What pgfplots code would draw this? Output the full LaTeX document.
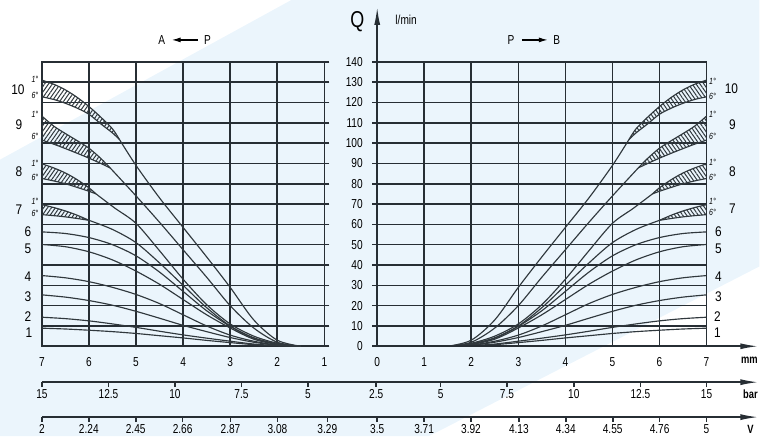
\documentclass[border=0pt]{standalone}
\usepackage{fontspec}
\setmainfont{Liberation Sans}[FakeStretch=0.8]
\newfontfamily\numfont{Liberation Sans}[FakeStretch=0.78]
\newfontfamily\lblfont{Liberation Sans}[FakeStretch=0.85]
\usepackage{pgfplots}
\usepackage{pgfplotstable}
\pgfplotsset{compat=1.18}
\usepgfplotslibrary{fillbetween}
\usetikzlibrary{patterns.meta,arrows.meta}
\definecolor{gridc}{HTML}{272E34}
\definecolor{curvec}{HTML}{30383D}
\definecolor{bgband}{HTML}{EBF5FC}

\pgfplotstableread{
x y
1.5 0
2 0.3
2.5 0.8
3 1.8
3.5 2.9
4 4.1
4.5 5.2
5 6.3
5.5 7.2
6 7.9
6.5 8.5
7 8.9
}\cA
\pgfplotstableread{
x y
1.5 0
2 0.3
2.5 1.1
3 2.5
3.5 4
4 5.6
4.5 7.4
5 9.3
5.5 11
6 12.5
6.5 13.6
7 14.3
}\cB
\pgfplotstableread{
x y
1.5 0
2 0.5
2.5 2
3 4.3
3.5 7.2
4 10.3
4.5 13.8
5 17.2
5.5 20.2
6 22.5
6.5 24.2
7 25.3
}\cC
\pgfplotstableread{
x y
1.5 0
2 0.6
2.5 2.5
3 5.5
3.5 10
4 15.5
4.5 21
5 25.5
5.5 29
6 31.8
6.5 33.7
7 34.8
}\cD
\pgfplotstableread{
x y
1.5 0
2 0.9
2.5 3.5
3 9
3.5 15.5
4 23
4.5 30.5
5 37
5.5 42.5
6 46.5
6.5 49
7 50.1
}\cE
\pgfplotstableread{
x y
1.5 0
2 1.1
2.5 4
3 9.8
3.5 17.5
4 27
4.5 36.5
5 44.5
5.5 50
6 53.5
6.5 55.5
7 56.3
}\cF
\pgfplotstableread{
x y
1.5 0
2 1.2
2.5 4.2
3 10
3.5 19
4 30
4.5 41
5 51
5.5 57.5
6 62
}\cGm
\pgfplotstableread{
x y
6 62
6.25 64.5
6.5 66.6
6.75 68.3
7 69.7
}\cGu
\pgfplotstableread{
x y
6 62
6.25 62.9
6.5 63.7
6.75 64.3
7 64.8
}\cGl
\pgfplotstableread{
x y
1.5 0
2 1.5
2.5 5
3 11
3.5 20.5
4 33
4.5 47
5 60.5
5.45 68
5.85 75
}\cHm
\pgfplotstableread{
x y
5.85 75
6 78
6.25 82
6.5 85.3
6.75 87.8
7 89.8
}\cHu
\pgfplotstableread{
x y
5.85 75
6 76.3
6.25 78.2
6.5 80
6.75 81.4
7 82.6
}\cHl
\pgfplotstableread{
x y
1.5 0
2 2
2.5 9
3 20
3.5 34
4 47.5
4.5 61
5 74
5.55 87.8
}\cIm
\pgfplotstableread{
x y
5.55 87.8
5.75 92.5
6 97.5
6.25 101.2
6.5 104.7
6.75 108.4
7 113.3
}\cIu
\pgfplotstableread{
x y
5.55 87.8
5.75 90
6 92.6
6.25 95
6.5 97.3
6.75 99.5
7 101.5
}\cIl
\pgfplotstableread{
x y
1.5 0
2 3
2.5 13
3 29
3.5 44
4 58.5
4.5 73
5 89
5.35 101.7
}\cJm
\pgfplotstableread{
x y
5.35 101.7
5.5 107
5.75 112.8
6 118
6.25 122.5
6.5 126.2
6.75 129
7 131
}\cJu
\pgfplotstableread{
x y
5.35 101.7
5.5 105
5.75 109.5
6 114.2
6.25 117.2
6.5 119.6
6.75 121.5
7 122.8
}\cJl

\pgfplotsset{
  cl/.style={curvec, line width=1.15pt, smooth, no markers},
  panel/.style={
    set layers,
    scale only axis, anchor=south west, height=285pt,
    ymin=0, ymax=140, ytick={0,10,...,140},
    grid=major, grid style={gridc, line width=1.6pt},
    axis line style={gridc, line width=1.6pt},
    xtick style={draw=none},
    tick align=outside, major tick length=5pt,
    ytick style={gridc, line width=1.6pt},
    /pgf/number format/assume math mode=true,
    xticklabel style={font=\numfont\fontsize{13}{13}\selectfont, yshift=-3pt},
    yticklabel style={font=\numfont\fontsize{13}{13}\selectfont},
    clip=false,
  },
  barscale/.style={
    scale only axis, anchor=south west, width=718pt, height=10pt,
    xmin=42, xmax=760, ymin=0, ymax=1,
    axis x line=bottom, axis y line=none, ytick=\empty,
    x axis line style={gridc, line width=1.6pt, -{Latex[length=18pt,width=6pt]}},
    tick align=outside, major tick length=5pt,
    xtick style={gridc, line width=1.6pt},
    xticklabel style={font=\numfont\fontsize{13}{13}\selectfont, yshift=1pt},
    clip=false,
  },
}

\newcommand\curveset[2]{%
  \addplot[cl] table {\cA};
  \addplot[cl] table {\cB};
  \addplot[cl] table {\cC};
  \addplot[cl] table {\cD};
  \addplot[cl] table {\cE};
  \addplot[cl] table {\cF};
  \addplot[cl] table {\cGm};
  \addplot[cl, name path=#2gu] table {\cGu};
  \addplot[cl, name path=#2gl] table {\cGl};
  \addplot[draw=none, pattern={Lines[angle=#1,distance=3.2pt,line width=1pt]}, pattern color=curvec] fill between[of=#2gu and #2gl];
  \addplot[cl] table {\cHm};
  \addplot[cl, name path=#2hu] table {\cHu};
  \addplot[cl, name path=#2hl] table {\cHl};
  \addplot[draw=none, pattern={Lines[angle=#1,distance=3.2pt,line width=1pt]}, pattern color=curvec] fill between[of=#2hu and #2hl];
  \addplot[cl] table {\cIm};
  \addplot[cl, name path=#2iu] table {\cIu};
  \addplot[cl, name path=#2il] table {\cIl};
  \addplot[draw=none, pattern={Lines[angle=#1,distance=3.2pt,line width=1pt]}, pattern color=curvec] fill between[of=#2iu and #2il];
  \addplot[cl] table {\cJm};
  \addplot[cl, name path=#2ju] table {\cJu};
  \addplot[cl, name path=#2jl] table {\cJl};
  \addplot[draw=none, pattern={Lines[angle=#1,distance=3.2pt,line width=1pt]}, pattern color=curvec] fill between[of=#2ju and #2jl];
}

\begin{document}
\begin{tikzpicture}
\path (0pt,0pt) rectangle (761pt,437pt);

% left panel  A <- P
\begin{axis}[panel, at={(42pt,90pt)}, width=283pt,
  xmin=1, xmax=7, x dir=reverse, xtick={1,...,7},
  ytick pos=right, yticklabels={}]
  \begin{pgfonlayer}{axis background}
  \fill[bgband] (axis cs:7.8905,91.86) -- (axis cs:1.6996,170.46) -- (axis cs:-8.244,170.46)
     -- (axis cs:-8.244,39.30) -- (axis cs:-1.2261,-44.21) -- (axis cs:7.8905,-44.21) -- cycle;
  \end{pgfonlayer}
  \curveset{55}{L}
\end{axis}

% right panel  P -> B
\begin{axis}[panel, at={(378pt,90pt)}, width=330pt,
  xmin=0, xmax=7, xtick={0,...,7},
  ytick pos=left, yticklabel style={anchor=east, xshift=-6pt}]
  \curveset{-55}{R}
  \draw[gridc, line width=1.6pt, -{Latex[length=18pt,width=6pt]}] (axis cs:0,0) -- (axis cs:0,167);
  \draw[gridc, line width=1.6pt, -{Latex[length=18pt,width=6pt]}] (axis cs:0,0) -- (axis cs:8.1,0);
  \node[font=\bfseries\numfont\fontsize{12}{12}\selectfont] at (axis cs:7.91,0) [yshift=-14pt] {mm};
\end{axis}

% bar scale
\begin{axis}[barscale, at={(42pt,54pt)},
  xtick={42,108.7,175.3,242,308.7,377,441.5,508,575,641.7,708},
  xticklabels={15,12.5,10,7.5,5,2.5,5,7.5,10,12.5,15}]
  \addplot[draw=none, forget plot] coordinates {(42,0) (760,1)};
  \node[font=\bfseries\numfont\fontsize{12}{12}\selectfont] at (axis cs:752,0) [yshift=-12pt] {bar};
\end{axis}

% V scale
\begin{axis}[barscale, at={(42pt,19pt)},
  xtick={42,89,136,183,231,278,328,378,425,472,520,567,614,661,708},
  xticklabels={2,2.24,2.45,2.66,2.87,3.08,3.29,3.5,3.71,3.92,4.13,4.34,4.55,4.76,5}]
  \addplot[draw=none, forget plot] coordinates {(42,0) (760,1)};
  \node[font=\bfseries\numfont\fontsize{12}{12}\selectfont] at (axis cs:752,0) [yshift=-12pt] {V};
\end{axis}

% titles
\begin{scope}[x=1pt,y=1pt]
\node[font=\numfont\fontsize{23}{23}\selectfont] at (358,415) {Q};
\node[font=\numfont\fontsize{13}{13}\selectfont] at (407,417) {l/min};
\node[font=\numfont\fontsize{13}{13}\selectfont] at (162,397) {A};
\node[font=\numfont\fontsize{13}{13}\selectfont] at (208,397) {P};
\draw[black, line width=1.2pt, -{Latex[length=9pt,width=5pt]}] (198,397) -- (172,397);
\node[font=\numfont\fontsize{13}{13}\selectfont] at (512,397) {P};
\node[font=\numfont\fontsize{13}{13}\selectfont] at (558,397) {B};
\draw[black, line width=1.2pt, -{Latex[length=9pt,width=5pt]}] (523,397) -- (549,397);
\end{scope}

% curve numbers
\begin{scope}[x=1pt,y=1pt,every node/.style={font=\lblfont\fontsize{14}{14}\selectfont}]
\node at (18,347) {10};
\node at (19,312) {9};
\node at (19,265) {8};
\node at (19,227) {7};
\node at (28,205) {6};
\node at (28,188) {5};
\node at (28,160) {4};
\node at (28,140) {3};
\node at (28,120) {2};
\node at (29,104) {1};
\node at (733,348) {10};
\node at (734,312) {9};
\node at (734,265) {8};
\node at (734,228) {7};
\node at (720,205) {6};
\node at (720,188) {5};
\node at (720,160) {4};
\node at (720,140) {3};
\node at (719,120) {2};
\node at (719,104) {1};
\end{scope}
\begin{scope}[x=1pt,y=1pt,every node/.style={font=\itshape\numfont\fontsize{9}{9}\selectfont, inner sep=0pt}]
\node at (35,357) {1°}; \node at (35,341) {6°};
\node at (35,322) {1°}; \node at (35,300) {6°};
\node at (35,273) {1°}; \node at (35,259) {6°};
\node at (35,235) {1°}; \node at (35,223) {6°};
\node at (714,355) {1°}; \node at (714,340) {6°};
\node at (714,322) {1°}; \node at (714,300) {6°};
\node at (714,274) {1°}; \node at (714,259) {6°};
\node at (714,235) {1°}; \node at (714,224) {6°};
\end{scope}
\end{tikzpicture}
\end{document}
